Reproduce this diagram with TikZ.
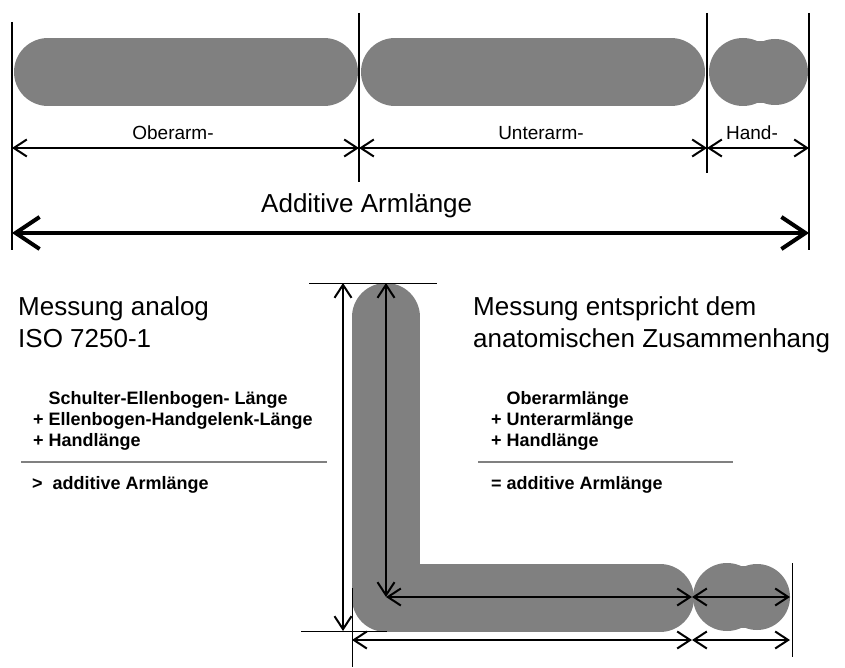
\documentclass[tikz,border=0pt]{standalone}
\usepackage{fontspec}
\setmainfont{Liberation Sans}
\usetikzlibrary{arrows.meta}
\definecolor{armgray}{RGB}{128,128,128}
\tikzset{
  armbar/.style={line width=68pt, armgray, line cap=round, line join=round},
  handblob/.style={fill=armgray, draw=none},
  dimline/.style={line width=2pt, {Straight Barb[length=13pt,width=17pt]}-{Straight Barb[length=13pt,width=17pt]}},
  bigdim/.style={line width=4pt, {Straight Barb[length=24pt,width=32pt]}-{Straight Barb[length=24pt,width=32pt]}},
  extline/.style={line width=2pt},
  tickline/.style={line width=1pt},
  seglabel/.style={inner sep=0pt, anchor=base, font=\fontsize{19}{22}\selectfont},
  headtext/.style={inner sep=0pt, anchor=north west, align=left, font=\fontsize{26}{32}\selectfont},
  sumtext/.style={inner sep=0pt, anchor=north west, align=left, font=\fontsize{18}{21}\selectfont\bfseries},
  sumrule/.style={line width=1.5pt, armgray}
}
\begin{document}
\begin{tikzpicture}[x=1pt,y=-1pt]
\useasboundingbox (0,0) rectangle (845,668);
% stretched arm
\draw[armbar] (48,72) -- (324,72); % upper arm
\draw[armbar] (395,72) -- (671,72); % forearm
\fill[handblob] (743,72) circle (34pt) (775,72) circle (33pt); % hand
\fill[handblob] (743,41) rectangle (775,103);
\draw[extline, line width=2.5pt] (12,22) -- (12,250);
\draw[extline] (359,13) -- (359,182);
\draw[extline] (707,13) -- (707,173);
\draw[extline, line width=2.5pt] (809,13) -- (809,250);
\coordinate (sh) at (12,148);
\coordinate (el) at (359,148);
\coordinate (wr) at (707,148);
\coordinate (ft) at (809,148);
\draw[dimline] (sh) -- (el);
\draw[dimline] (el) -- (wr);
\draw[dimline] (wr) -- (ft);
\node[seglabel] (ober) at (173,140) {Oberarm-};
\node[seglabel] (unter) at (541,140) {Unterarm-};
\node[seglabel] (hand) at (752,140) {Hand-};
\coordinate (tsh) at (12,233);
\coordinate (tft) at (809,233);
\draw[bigdim] (tsh) -- (tft);
\node[inner sep=0pt, anchor=base west, font=\fontsize{26}{32}\selectfont] (additive) at (261,213) {Additive Armlänge};
% bent arm
\draw[armbar] (386,317) -- (386,598) -- (660,598);
\fill[handblob] (727,597) circle (34pt) (757,597) circle (33pt);
\fill[handblob] (727,566) rectangle (757,628);
\draw[tickline] (309,283) -- (437,283);
\draw[tickline] (301,631) -- (387,631);
\draw[tickline] (352,588) -- (352,667);
\draw[tickline] (792,563) -- (792,657);
\coordinate (top) at (386,283);
\coordinate (elb) at (386,597);
\coordinate (wrb) at (692,597);
\coordinate (ftb) at (790,597);
\draw[dimline] (343,283) -- (343,631);
\draw[dimline] (top) -- (elb);
\draw[dimline] (elb) -- (wrb);
\draw[dimline] (wrb) -- (ftb);
\coordinate (bel) at (352,640);
\coordinate (bwr) at (692,640);
\coordinate (bft) at (790,640);
\draw[dimline] (bel) -- (bwr);
\draw[dimline] (bwr) -- (bft);
% texts
\node[headtext] (iso) at (18,296) {Messung analog\\ISO 7250-1};
\node[headtext] (anat) at (473,296) {Messung entspricht dem\\anatomischen Zusammenhang};
\node[sumtext] (isosum) at (33,391) {\hphantom{+ }Schulter-Ellenbogen- Länge\\+ Ellenbogen-Handgelenk-Länge\\+ Handlänge};
\draw[sumrule] (21,462) -- (327,462);
\node[sumtext] (isores) at (32,476) {>\hspace{10pt}additive Armlänge};
\node[sumtext] (anatsum) at (491,391) {\hphantom{+ }Oberarmlänge\\+ Unterarmlänge\\+ Handlänge};
\draw[sumrule] (478,462) -- (733,462);
\node[sumtext] (anatres) at (491,476) {= additive Armlänge};
\end{tikzpicture}
\end{document}
